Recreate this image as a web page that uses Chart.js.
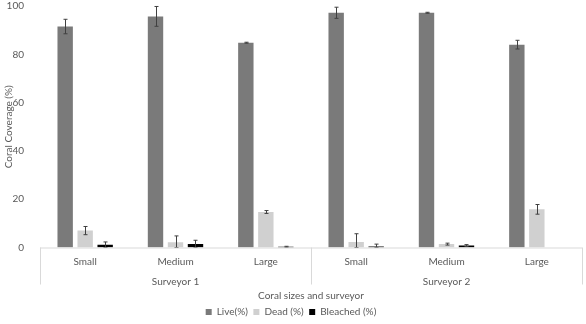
<!DOCTYPE html>
<html>
<head>
<meta charset="utf-8">
<script src="https://cdn.jsdelivr.net/npm/chart.js@4"></script>
<style>
  html, body { margin: 0; padding: 0; background: #fff; }
  #wrap { width: 586px; height: 324px; }
</style>
</head>
<body>
<div id="wrap"><canvas id="myChart" width="586" height="324"></canvas></div>
<script>
// Adatok
const sizes = ['Small', 'Medium', 'Large', 'Small', 'Medium', 'Large'];
const surveyors = ['Surveyor 1', 'Surveyor 2'];
const live = [91.5, 95.7, 84.8, 97.2, 97.2, 84.0];
const liveErr = [3.0, 4.1, 0.2, 2.3, 0.2, 1.8];
const dead = [7.0, 2.2, 14.7, 2.3, 1.4, 15.8];
const deadErr = [1.7, 2.6, 0.6, 3.4, 0.4, 2.0];
const bleached = [1.1, 1.4, 0.3, 0.4, 0.8, 0];
const bleachedErr = [1.2, 1.6, 0.2, 1.0, 0.4, 0];
const yTicks = [0, 20, 40, 60, 80, 100];

const FONT = 'Lato, "Liberation Sans", sans-serif';
const TEXT = '#595959';
const LINE = '#d9d9d9';

// Hibasávok rajzolása
const errorBars = {
    id: 'errorBars',
    afterDatasetsDraw(chart) {
        const ctx = chart.ctx;
        const y = chart.scales.y;
        ctx.save();
        ctx.strokeStyle = '#404040';
        ctx.lineWidth = 1;
        chart.data.datasets.forEach((ds, i) => {
            const meta = chart.getDatasetMeta(i);
            meta.data.forEach((bar, j) => {
                const e = ds.err[j];
                if (!e) return;
                const v = ds.data[j];
                const x = Math.round(bar.x) + 0.5;
                const top = y.getPixelForValue(v + e);
                const bot = y.getPixelForValue(Math.max(0, v - e));
                ctx.beginPath();
                ctx.moveTo(x, top); ctx.lineTo(x, bot);
                ctx.moveTo(x - 2, top); ctx.lineTo(x + 2, top);
                ctx.moveTo(x - 2, bot); ctx.lineTo(x + 2, bot);
                ctx.stroke();
            });
        });
        ctx.restore();
    }
};

// Kétszintű kategória tengely vonalai
const groupLines = {
    id: 'groupLines',
    afterDraw(chart) {
        const ctx = chart.ctx;
        const x = chart.scales.x;
        const bottom = chart.chartArea.bottom;
        const mid = (x.getPixelForValue(2) + x.getPixelForValue(3)) / 2;
        ctx.save();
        ctx.strokeStyle = LINE;
        ctx.lineWidth = 1;
        ctx.beginPath();
        ctx.moveTo(x.left, bottom + 0.5); ctx.lineTo(x.right, bottom + 0.5);
        [x.left, mid, x.right].forEach(px => {
            const p = Math.round(px) + 0.5;
            ctx.moveTo(p, bottom); ctx.lineTo(p, bottom + 37);
        });
        ctx.stroke();
        ctx.restore();
    }
};

const ctx = document.getElementById('myChart').getContext('2d');
const myChart = new Chart(ctx, {
    type: 'bar',
    data: {
        labels: sizes,
        datasets: [
            { label: 'Live(%)', data: live, err: liveErr, backgroundColor: '#7a7a7a' },
            { label: 'Dead (%)', data: dead, err: deadErr, backgroundColor: '#d0d0d0' },
            { label: 'Bleached (%)', data: bleached, err: bleachedErr, backgroundColor: '#000000' }
        ]
    },
    options: {
        responsive: false,
        animation: false,
        datasets: { bar: { categoryPercentage: 0.664, barPercentage: 0.77 } },
        layout: { padding: { top: 0, right: 4, left: 0, bottom: -3 } },
        scales: {
            y: {
                min: 0, max: 100,
                afterBuildTicks: s => { s.ticks = yTicks.map(v => ({ value: v })); },
                afterFit: s => { s.width = 40; s.paddingTop = 6; s.paddingBottom = 0; },
                grid: { display: false },
                border: { display: false },
                ticks: { color: TEXT, font: { family: FONT, size: 10 }, padding: 8 },
                title: { display: true, text: 'Coral Coverage (%)', color: TEXT,
                         font: { family: FONT, size: 10 }, padding: { top: 3, bottom: 0 } }
            },
            x: {
                grid: { display: false, drawTicks: false },
                border: { display: false },
                afterFit: s => { s.height = 22; },
                ticks: { color: TEXT, font: { family: FONT, size: 10 }, padding: 8 }
            },
            x2: {
                type: 'category',
                position: 'bottom',
                labels: surveyors,
                offset: true,
                grid: { display: false, drawTicks: false },
                border: { display: false },
                afterFit: s => { s.height = 32; },
                ticks: { color: TEXT, font: { family: FONT, size: 10 }, padding: 6 },
                title: { display: true, text: 'Coral sizes and surveyor', color: TEXT,
                         font: { family: FONT, size: 10 }, padding: 0 }
            }
        },
        plugins: {
            legend: {
                position: 'bottom',
                labels: { color: TEXT, font: { family: FONT, size: 10 },
                          boxWidth: 6, boxHeight: 6, padding: 5.5 }
            },
            tooltip: { enabled: false }
        }
    },
    plugins: [errorBars, groupLines]
});
</script>
</body>
</html>
